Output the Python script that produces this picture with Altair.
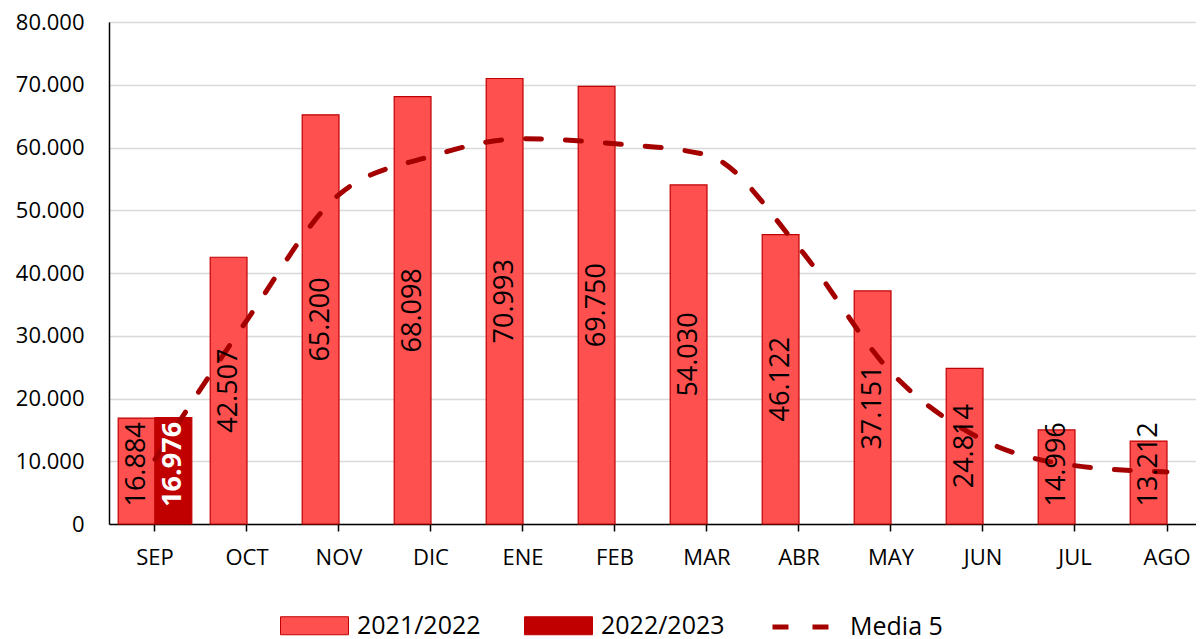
import altair as alt
import pandas as pd

months = ["SEP", "OCT", "NOV", "DIC", "ENE", "FEB", "MAR", "ABR", "MAY", "JUN", "JUL", "AGO"]
series = ["2021/2022", "2022/2023"]
vals_2122 = [16884, 42507, 65200, 68098, 70993, 69750, 54030, 46122, 37151, 24814, 14996, 13212]
vals_2223 = [16976]
media5_name = "Media 5"
media5 = [10300, 32500, 52500, 58600, 61400, 60600, 58800, 44000, 24200, 13400, 9300, 8300]

rows = []
for m, v in zip(months, vals_2122):
    rows.append({"month": m, "series": series[0], "value": v})
for m, v in zip(months, vals_2223):
    rows.append({"month": m, "series": series[1], "value": v})
bars_df = pd.DataFrame(rows)
line_df = pd.DataFrame({"month": months, "value": media5, "name": media5_name})

FONT = "Open Sans"

x_enc = alt.X(
    "month:N", sort=months,
    scale=alt.Scale(domain=months, paddingInner=0.2, paddingOuter=0.1, range=[0, 1104]),
    axis=alt.Axis(title=None, labelAngle=0, labelFontSize=22, labelColor="black",
                  labelFont=FONT, domainColor="black", domainWidth=1.5,
                  tickColor="black", tickWidth=1.5, tickSize=7, labelPadding=16, grid=False),
)
y_axis = alt.Axis(title=None, values=list(range(0, 80001, 10000)),
                  labelExpr="datum.value == 0 ? '0' : replace(format(datum.value, ',.0f'), ',', '.')",
                  labelFontSize=22, labelColor="black", labelFont=FONT,
                  domainColor="black", domainWidth=1.5, ticks=False, labelPadding=25,
                  gridColor="#D9D9D9", gridWidth=1.5)
y_scale = alt.Scale(domain=[0, 80000], nice=False)
y_enc = alt.Y("value:Q", scale=y_scale, axis=y_axis)
xoff = alt.XOffset("series:N", sort=series,
                   scale=alt.Scale(domain=series, paddingInner=0, paddingOuter=0))

bars = alt.Chart(bars_df).mark_bar(strokeWidth=1.2, stroke="#C00000").encode(
    x=x_enc,
    xOffset=xoff,
    y=y_enc,
    fill=alt.Fill("series:N",
                  scale=alt.Scale(domain=series, range=["#FF5050", "#C00000"]),
                  legend=alt.Legend(title=None, orient="none", legendX=171, legendY=583,
                                    direction="horizontal",
                                    symbolType="M-1,-0.45H2.4V0.45H-1Z", symbolSize=1600,
                                    symbolStrokeColor="#C00000", symbolStrokeWidth=1,
                                    labelFontSize=25, labelFont=FONT, labelColor="black",
                                    labelOffset=36, columnPadding=41, padding=0)),
)

line = alt.Chart(line_df).mark_line(
    color="#A50000", strokeWidth=5, strokeCap="round", interpolate="monotone"
).encode(
    x=x_enc,
    y=y_enc,
    strokeDash=alt.StrokeDash("name:N",
                              scale=alt.Scale(domain=[media5_name], range=[[16, 24]]),
                              legend=alt.Legend(title=None, orient="none", legendX=661, legendY=572,
                                                symbolType="stroke", symbolSize=3721,
                                                symbolStrokeColor="#A50000", symbolStrokeWidth=5,
                                                symbolDash=[19, 22],
                                                labelFontSize=25, labelFont=FONT, labelColor="black",
                                                labelOffset=14, padding=0)),
)

label_base = alt.Chart(bars_df).transform_calculate(
    label="replace(format(datum.value, ',.0f'), ',', '.')",
    ypos="max(datum.value / 2, 9500)",
)
y_lab = alt.Y("ypos:Q", scale=y_scale, axis=y_axis)

labels_a = label_base.transform_filter(alt.datum.series == series[0]).mark_text(
    angle=270, align="center", baseline="middle", fontSize=27, font=FONT, color="black"
).encode(x=x_enc, xOffset=xoff, y=y_lab, text="label:N")

labels_b = label_base.transform_filter(alt.datum.series == series[1]).mark_text(
    angle=270, align="center", baseline="middle", fontSize=27, font=FONT, color="white",
    fontWeight="bold"
).encode(x=x_enc, xOffset=xoff, y=y_lab, text="label:N")

chart = alt.layer(bars, line, labels_a, labels_b).properties(
    width=1087, height=502,
    autosize=alt.AutoSizeParams(type="none"),
    padding={"left": 101, "top": 14, "right": 0, "bottom": 125},
).configure_view(stroke=None).configure(font=FONT)

chart.save("out.html", embed_options={"renderer": "svg", "actions": False})
